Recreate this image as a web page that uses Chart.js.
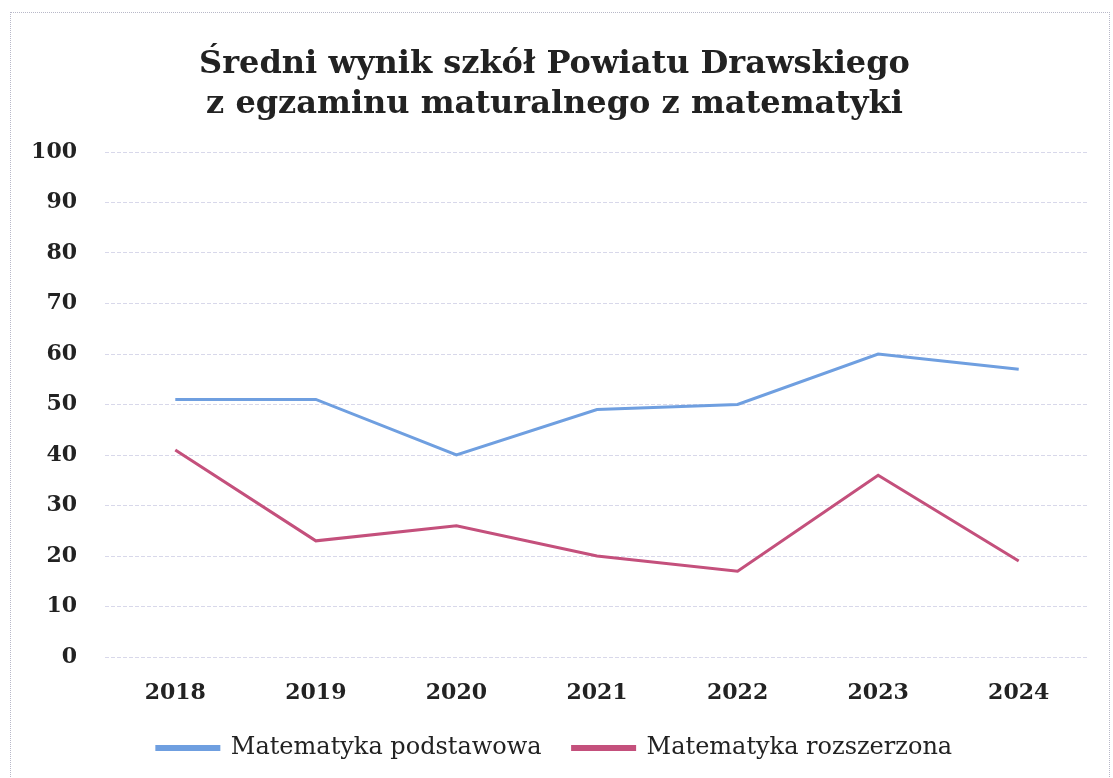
<!DOCTYPE html>
<html>
<head>
<meta charset="utf-8">
<script src="https://cdn.jsdelivr.net/npm/chart.js@4"></script>
<style>
  body { margin: 0; background: #fff; }
  #wrap { position: relative; width: 1113px; height: 778px; }
  #frame { position: absolute; left: 10px; top: 12px; width: 1098px; height: 770px;
           border-left: 1px dotted #b8b8c8; border-top: 1px dotted #b8b8c8; border-right: 1px dotted #b8b8c8; }
</style>
</head>
<body>
<div id="wrap">
  <div id="frame"></div>
  <canvas id="chart" width="1113" height="778"></canvas>
</div>
<script>
// --- Data ---
const years = ['2018', '2019', '2020', '2021', '2022', '2023', '2024'];
const podstawowa = [51, 51, 40, 49, 50, 60, 57];
const rozszerzona = [41, 23, 26, 20, 17, 36, 19];
const titleLines = ['Średni wynik szkół Powiatu Drawskiego', 'z egzaminu maturalnego z matematyki'];

const serif = '"DejaVu Serif", "Liberation Serif", serif';

const ctx = document.getElementById('chart').getContext('2d');
new Chart(ctx, {
    type: 'line',
    data: {
        labels: years,
        datasets: [{
            label: 'Matematyka podstawowa',
            data: podstawowa,
            borderColor: '#6f9fe0',
            backgroundColor: '#6f9fe0',
            borderWidth: 3,
            pointRadius: 0,
            tension: 0
        }, {
            label: 'Matematyka rozszerzona',
            data: rozszerzona,
            borderColor: '#c4507c',
            backgroundColor: '#c4507c',
            borderWidth: 3,
            pointRadius: 0,
            tension: 0
        }]
    },
    options: {
        responsive: false,
        animation: false,
        layout: { padding: { left: 20, right: 24, top: 45, bottom: 8 } },
        plugins: {
            title: {
                display: true,
                text: titleLines,
                color: '#222',
                font: { family: serif, size: 32, weight: 'bold', lineHeight: 1.25 },
                padding: { top: 0, bottom: 27 }
            },
            legend: {
                position: 'bottom',
                labels: {
                    boxWidth: 62,
                    boxHeight: 3,
                    padding: 31,
                    color: '#222',
                    font: { family: serif, size: 24 }
                }
            },
            tooltip: { enabled: false }
        },
        scales: {
            y: {
                min: 0,
                max: 100,
                afterFit: (axis) => { axis.width = 85; },
                ticks: {
                    stepSize: 10,
                    color: '#222',
                    padding: 28,
                    font: { family: serif, size: 22, weight: 'bold' }
                },
                grid: { color: '#d8d8ea', drawTicks: false, lineWidth: 1 },
                border: { display: false, dash: [4, 2] }
            },
            x: {
                offset: true,
                afterFit: (axis) => { axis.height = 48; },
                ticks: {
                    color: '#222',
                    padding: 15,
                    font: { family: serif, size: 22, weight: 'bold' }
                },
                grid: { display: false },
                border: { display: false }
            }
        }
    }
});
</script>
</body>
</html>
